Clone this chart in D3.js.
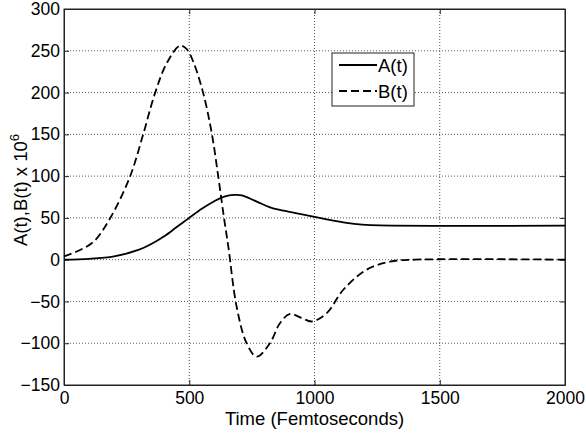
<!DOCTYPE html>
<html>
<head>
<meta charset="utf-8">
<script src="https://cdn.jsdelivr.net/npm/d3@7"></script>
<style>
  body { margin: 0; background: #fff; }
  text { font-family: "Liberation Sans", Arial, sans-serif; fill: #000; }
</style>
</head>
<body>
<div id="chart"></div>
<script>
// values (time in fs, amplitude x 10^6)
const tA = [0, 100, 200, 300, 350, 400, 450, 500, 550, 600, 640, 680, 710, 740, 780, 820, 862, 920, 995, 1060, 1128, 1190, 1261, 2000];
const valA = [0, 1, 4, 12, 19, 28, 39, 50, 61, 70, 75.5, 77.5, 77, 73.5, 68, 63, 59.5, 56, 51.5, 47.5, 44, 42, 41, 40.7];

const tB = [0, 64, 120, 184, 263, 317, 363, 410, 463, 490, 516, 556, 590, 616, 639, 656, 689, 729, 769, 822, 862, 902, 950, 989, 1049, 1115, 1208, 1301, 1400, 2000];
const valB = [4, 11.6, 22, 49.5, 99, 151, 199, 235, 256, 252, 237, 199, 151, 99, 49.5, 15.6, -56, -100, -116, -100, -76, -65, -70, -74, -64, -36, -12, -2.4, 0, 0];

const xTicks = [0, 500, 1000, 1500, 2000];
const yTicks = [-150, -100, -50, 0, 50, 100, 150, 200, 250, 300];
const seriesNames = ["A(t)", "B(t)"];

const W = 586, H = 436;
const M = { LEFT: 64, RIGHT: 21, TOP: 9, BOTTOM: 51 };
const FS = 18.5, TFS = 17.5;

const svg = d3.select("#chart").append("svg")
    .attr("width", W)
    .attr("height", H);

svg.append("rect").attr("width", W).attr("height", H).attr("fill", "#fff");

const x = d3.scaleLinear().domain([0, 2000]).range([M.LEFT, W - M.RIGHT]);
const y = d3.scaleLinear().domain([-150, 300]).range([H - M.BOTTOM, M.TOP]);

// dotted grid
svg.append("g")
    .selectAll("line")
    .data(xTicks.slice(1, -1))
    .join("line")
    .attr("x1", d => x(d)).attr("x2", d => x(d))
    .attr("y1", y(-150)).attr("y2", y(300))
    .attr("stroke", "#555").attr("stroke-width", 1)
    .attr("stroke-dasharray", "1,2");

svg.append("g")
    .selectAll("line")
    .data(yTicks.slice(1, -1))
    .join("line")
    .attr("y1", d => y(d)).attr("y2", d => y(d))
    .attr("x1", x(0)).attr("x2", x(2000))
    .attr("stroke", "#555").attr("stroke-width", 1)
    .attr("stroke-dasharray", "1,2");

// axes, MATLAB style: inward ticks on all sides
const tick = 5;
const fmt = d3.format("d");
svg.append("g")
    .attr("transform", `translate(0,${y(-150)})`)
    .call(d3.axisBottom(x).tickValues(xTicks).tickFormat(fmt).tickSize(-tick).tickPadding(7).tickSizeOuter(0))
    .call(g => g.selectAll("text").attr("font-size", TFS).style("font-family", "Liberation Sans, Arial, sans-serif"));
svg.append("g")
    .attr("transform", `translate(0,${y(300)})`)
    .call(d3.axisTop(x).tickValues(xTicks).tickSize(-tick).tickFormat("").tickSizeOuter(0));
svg.append("g")
    .attr("transform", `translate(${x(0)},0)`)
    .call(d3.axisLeft(y).tickValues(yTicks).tickFormat(fmt).tickSize(-tick).tickPadding(4).tickSizeOuter(0))
    .call(g => g.selectAll("text").attr("font-size", TFS).style("font-family", "Liberation Sans, Arial, sans-serif"));
svg.append("g")
    .attr("transform", `translate(${x(2000)},0)`)
    .call(d3.axisRight(y).tickValues(yTicks).tickSize(-tick).tickFormat("").tickSizeOuter(0));

svg.selectAll(".domain").attr("stroke", "#222");
svg.selectAll(".tick line").attr("stroke", "#222");

// box
svg.append("rect")
    .attr("x", x(0)).attr("y", y(300))
    .attr("width", x(2000) - x(0)).attr("height", y(-150) - y(300))
    .attr("fill", "none").attr("stroke", "#222").attr("stroke-width", 1);

// curves
const line = d3.line()
    .x(d => x(d[0]))
    .y(d => y(d[1]))
    .curve(d3.curveCatmullRom.alpha(0.5));

svg.append("path")
    .datum(d3.zip(tB, valB))
    .attr("d", line)
    .attr("fill", "none")
    .attr("stroke", "#000")
    .attr("stroke-width", 1.8)
    .attr("stroke-dasharray", "8,4");

svg.append("path")
    .datum(d3.zip(tA, valA))
    .attr("d", line)
    .attr("fill", "none")
    .attr("stroke", "#000")
    .attr("stroke-width", 1.8);

// axis labels
svg.append("text")
    .attr("x", (x(0) + x(2000)) / 2)
    .attr("y", 425)
    .attr("text-anchor", "middle")
    .attr("font-size", FS)
    .text("Time (Femtoseconds)");

const yl = svg.append("text")
    .attr("transform", `translate(27,${190}) rotate(-90)`)
    .attr("text-anchor", "middle")
    .attr("font-size", FS);
yl.append("tspan").text("A(t),B(t) x 10");
yl.append("tspan").attr("dy", -8).attr("font-size", 13).text("6");

// legend
const lg = svg.append("g").attr("transform", "translate(332,53)");
lg.append("rect")
    .attr("width", 82).attr("height", 53)
    .attr("fill", "#fff").attr("stroke", "#222").attr("stroke-width", 1);
seriesNames.forEach((name, i) => {
    const yy = 12 + i * 26;
    lg.append("line")
        .attr("x1", 7).attr("x2", 45)
        .attr("y1", yy).attr("y2", yy)
        .attr("stroke", "#000").attr("stroke-width", 1.8)
        .attr("stroke-dasharray", i === 1 ? "8,4" : null);
    lg.append("text")
        .attr("x", 46).attr("y", yy + 6.5)
        .attr("font-size", FS)
        .text(name);
});
</script>
</body>
</html>
